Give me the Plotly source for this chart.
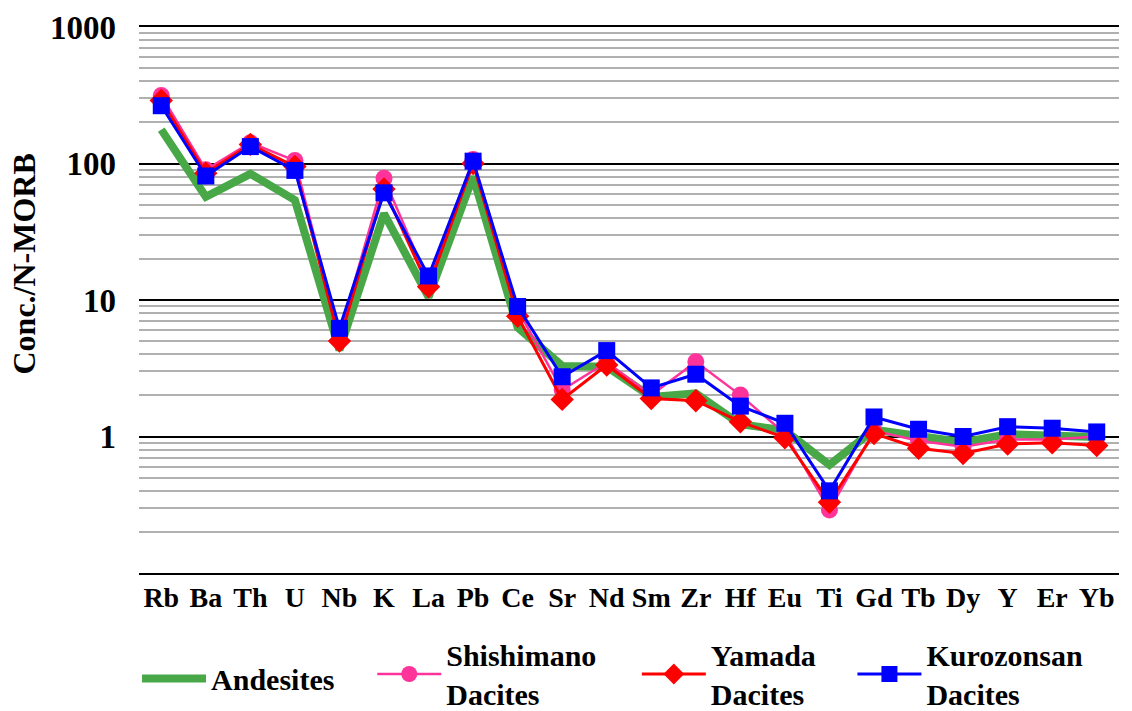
import numpy as np
import plotly.graph_objects as go

# Element order for the N-MORB normalized spider diagram
elements = ["Rb", "Ba", "Th", "U", "Nb", "K", "La", "Pb", "Ce", "Sr", "Nd",
            "Sm", "Zr", "Hf", "Eu", "Ti", "Gd", "Tb", "Dy", "Y", "Er", "Yb"]

andesites = [177, 57, 84, 54, 4.3, 43, 10.5, 80, 6.3, 3.29, 3.25,
             1.95, 2.07, 1.23, 1.11, 0.62, 1.12, 1.02, 0.91, 1.04, 1.02, 0.99]
shishimano = [315, 90, 142, 105, 5.6, 78, 13.5, 107, 8.5, 2.19, 3.5,
              2.01, 3.53, 2.01, 1.05, 0.29, 1.10, 0.93, 0.84, 0.95, 0.95, 1.0]
yamada = [290, 85, 138, 95, 5.0, 65, 12.5, 100, 7.6, 1.87, 3.34,
          1.90, 1.83, 1.28, 0.98, 0.33, 1.05, 0.82, 0.75, 0.88, 0.90, 0.86]
kurozonsan = [265, 81, 133, 89, 6.2, 61, 15.0, 104, 8.96, 2.74, 4.26,
              2.27, 2.86, 1.67, 1.25, 0.40, 1.39, 1.13, 1.0, 1.18, 1.15, 1.08]

y_ticks = [1, 10, 100, 1000]
y_ticklabels = ["1", "10", "100", "1000"]

FONT = "Liberation Serif"
LEGEND_FONT = dict(family=FONT, size=30, color="black", weight="bold")

fig = go.Figure()

fig.add_trace(go.Scatter(
    x=elements, y=andesites, name="Andesites", mode="lines",
    line=dict(color="#48a848", width=8), legend="legend",
))
fig.add_trace(go.Scatter(
    x=elements, y=shishimano, name="Shishimano<br>Dacites", mode="lines+markers",
    line=dict(color="#ff3399", width=2.5),
    marker=dict(symbol="circle", size=17, color="#ff3399"), legend="legend2",
))
fig.add_trace(go.Scatter(
    x=elements, y=yamada, name="Yamada<br>Dacites", mode="lines+markers",
    line=dict(color="#ff0000", width=3),
    marker=dict(symbol="diamond", size=18, color="#ff0000"), legend="legend3",
))
fig.add_trace(go.Scatter(
    x=elements, y=kurozonsan, name="Kurozonsan<br>Dacites", mode="lines+markers",
    line=dict(color="#0000ff", width=3),
    marker=dict(symbol="square", size=17, color="#0000ff"), legend="legend4",
))


def legend_box(xpos, ypos):
    # one legend per series, laid out in a single row below the axis
    return dict(
        x=xpos, xanchor="left", y=ypos, yanchor="middle",
        orientation="v", font=LEGEND_FONT, itemwidth=64,
        valign="middle", bgcolor="rgba(0,0,0,0)", borderwidth=0,
    )


fig.update_layout(
    width=1132, height=711,
    margin=dict(l=139, r=13, t=27, b=138, autoexpand=False),
    paper_bgcolor="white", plot_bgcolor="white",
    font=dict(family=FONT, color="black"),
    showlegend=True,
    legend=legend_box(-0.002, -0.193),
    legend2=legend_box(0.238, -0.185),
    legend3=legend_box(0.508, -0.185),
    legend4=legend_box(0.728, -0.185),
    annotations=[dict(
        text="<b>Conc./N-MORB</b>", textangle=-90,
        xref="paper", yref="paper", x=0, y=0.565,
        xshift=-115, xanchor="center", yanchor="middle",
        showarrow=False, font=dict(family=FONT, size=32, color="black"),
    )],
)

fig.update_xaxes(
    type="category", range=[-0.5, len(elements) - 0.5],
    showgrid=False, showline=True, mirror=True,
    linecolor="black", linewidth=2,
    ticks="", ticklabelstandoff=-2,
    tickfont=dict(family=FONT, size=28, color="black", weight="bold"),
)

fig.update_yaxes(
    type="log", range=[-1, 3],
    tickvals=y_ticks, ticktext=y_ticklabels,
    showgrid=True, gridcolor="black", gridwidth=2,
    zeroline=False, showline=False,
    ticks="", ticklabelstandoff=22,
    tickfont=dict(family=FONT, size=33, color="black", weight="bold"),
    minor=dict(
        tickvals=[m * 10.0 ** e for e in range(-1, 3) for m in range(2, 10)],
        showgrid=True, gridcolor="#b0b0b0", gridwidth=2, ticks="",
    ),
)

fig.write_html("out.html")
